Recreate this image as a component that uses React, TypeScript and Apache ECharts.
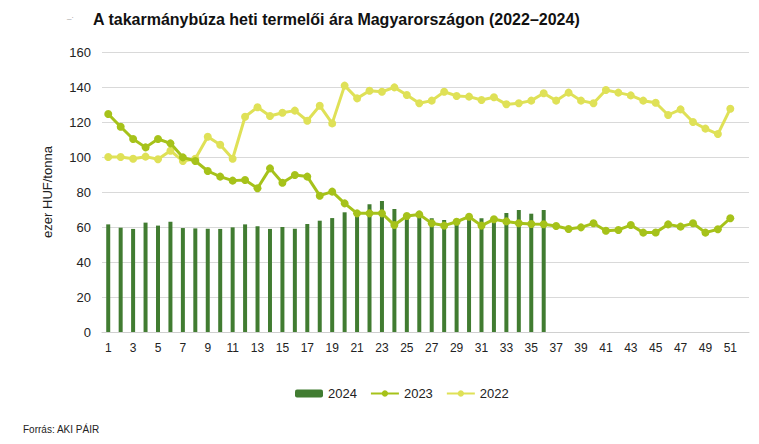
import React, { useEffect, useRef } from "react";
import * as echarts from "echarts";

const weeks = [
  "1","2","3","4","5","6","7","8","9","10","11","12","13","14","15","16","17","18","19","20",
  "21","22","23","24","25","26","27","28","29","30","31","32","33","34","35","36","37","38","39","40",
  "41","42","43","44","45","46","47","48","49","50","51","52",
];

const yTicks = [0, 20, 40, 60, 80, 100, 120, 140, 160];

const prices2024 = [
  61.5, 59.6, 58.9, 62.5, 60.8, 63.0, 59.4, 59.2, 59.0, 58.9,
  59.8, 61.5, 60.4, 58.9, 60.0, 59.0, 61.7, 63.6, 65.1, 68.4,
  68.8, 73.0, 74.9, 70.3, 65.5, 67.0, 65.0, 64.0, 63.0, 64.5,
  65.0, 66.0, 68.0, 69.7, 67.6, 69.7,
];

const prices2023 = [
  124.6, 117.3, 110.3, 105.5, 110.3, 107.8, 99.8, 97.7, 92.0, 88.8,
  86.5, 86.9, 82.1, 93.5, 85.3, 89.7, 88.8, 77.9, 80.2, 73.5,
  67.8, 67.8, 67.8, 61.1, 66.3, 67.2, 62.1, 60.8, 63.0, 65.9,
  60.8, 64.4, 63.2, 62.1, 61.7, 61.6, 60.6, 58.9, 59.8, 62.1,
  57.9, 58.3, 61.1, 56.8, 56.9, 61.5, 60.2, 62.1, 56.8, 58.7, 65.0,
];

const prices2022 = [
  100, 100, 99, 100.2, 98.7, 103.6, 97.7, 99, 111.6, 107,
  99, 123, 128.4, 123.4, 125.3, 126.5, 120.7, 129.3, 119.2, 140.8,
  133.5, 137.9, 137.3, 139.8, 135.4, 130.7, 132.2, 137.3, 134.9, 134.5,
  132.6, 134.1, 130.1, 130.7, 132.2, 136.4, 132.2, 136.8, 132.2, 130.7,
  138.3, 136.8, 135.2, 132.2, 131.0, 124, 127.2, 120, 116.2, 113.1, 127.6,
];

const seriesNames = ["2024", "2023", "2022"];
const titleText = "A takarmánybúza heti termelői ára Magyarországon (2022–2024)";
const yAxisTitle = "ezer HUF/tonna";
const sourceText = "Forrás: AKI PÁIR";

const FONT = "'Liberation Sans', Arial, sans-serif";
const C_BAR = "#417c31";
const C_2023 = "#a6c21a";
const C_2022 = "#dfe157";

export default function App() {
  const ref = useRef<HTMLDivElement>(null);

  useEffect(() => {
    if (!ref.current) return;
    const chart = echarts.init(ref.current, null, { renderer: "svg" });
    chart.setOption({
      animation: false,
      backgroundColor: "#ffffff",
      textStyle: { fontFamily: FONT },
      title: {
        text: titleText,
        left: 88,
        top: 6,
        textStyle: { fontFamily: FONT, fontSize: 16, fontWeight: "bold", color: "#111" },
      },
      graphic: [
        {
          type: "text",
          left: 23,
          top: 424,
          style: { text: sourceText, font: `10px ${FONT}`, fill: "#222" },
        },
        {
          type: "text",
          left: 67,
          top: 11,
          style: { text: "_.", font: `8px ${FONT}`, fill: "#999" },
        },
      ],
      legend: {
        data: seriesNames,
        left: 290,
        top: 382,
        itemWidth: 28,
        itemHeight: 8,
        itemGap: 13,
        textStyle: { fontFamily: FONT, fontSize: 13, color: "#222" },
      },
      grid: { left: 102, right: 10, top: 52, bottom: 112, containLabel: false },
      xAxis: {
        type: "category",
        data: weeks,
        boundaryGap: true,
        axisLine: { lineStyle: { color: "#d0d0d0", width: 1 } },
        axisTick: { show: false },
        axisLabel: { interval: 1, color: "#222", fontSize: 12, fontFamily: FONT, margin: 10 },
      },
      yAxis: {
        type: "value",
        min: yTicks[0],
        max: yTicks[yTicks.length - 1],
        interval: 20,
        name: yAxisTitle,
        nameLocation: "middle",
        nameRotate: 90,
        nameGap: 48,
        nameTextStyle: { fontFamily: FONT, fontSize: 13, color: "#222" },
        axisLine: { show: false },
        axisTick: { show: false },
        axisLabel: { color: "#222", fontSize: 13, fontFamily: FONT, margin: 11 },
        splitLine: { lineStyle: { color: "#d9d9d9", width: 1 } },
      },
      series: [
        {
          name: seriesNames[0],
          type: "bar",
          data: prices2024,
          barWidth: 4,
          itemStyle: { color: C_BAR },
          z: 1,
        },
        {
          name: seriesNames[1],
          type: "line",
          data: prices2023,
          symbol: "circle",
          symbolSize: 8,
          lineStyle: { color: C_2023, width: 3 },
          itemStyle: { color: C_2023 },
          z: 3,
        },
        {
          name: seriesNames[2],
          type: "line",
          data: prices2022,
          symbol: "circle",
          symbolSize: 8,
          lineStyle: { color: C_2022, width: 3 },
          itemStyle: { color: C_2022 },
          z: 2,
        },
      ],
    });
    return () => chart.dispose();
  }, []);

  return (
    <div
      ref={ref}
      style={{ position: "absolute", left: 0, top: 0, width: 759, height: 444, background: "#fff" }}
    />
  );
}
